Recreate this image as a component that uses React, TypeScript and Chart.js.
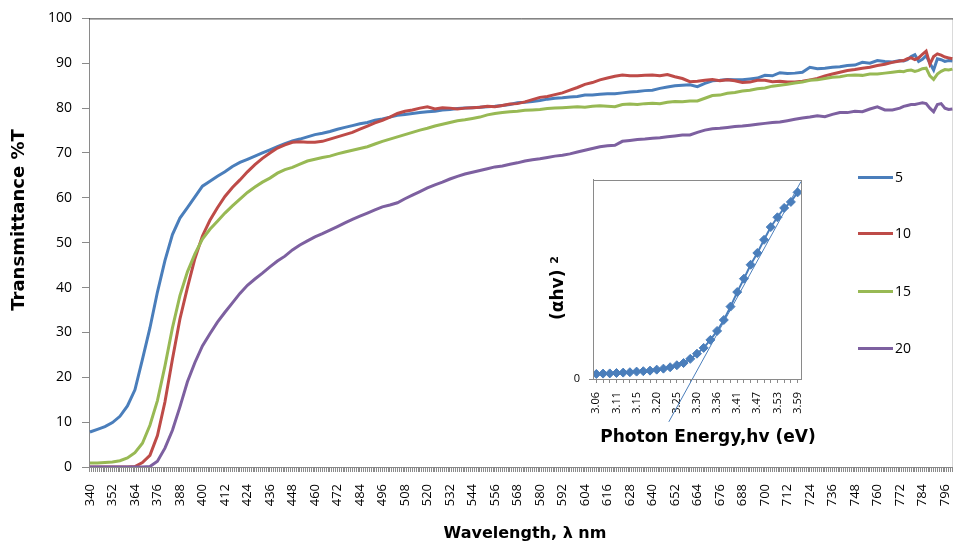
import React, { useEffect, useRef } from "react";
import { Chart, registerables } from "chart.js";

Chart.register(...registerables);

// ---------- main chart data ----------
const wavelengths = [
  340, 344, 348, 352, 356, 360, 364, 368, 372, 376,
  380, 384, 388, 392, 396, 400, 404, 408, 412, 416,
  420, 424, 428, 432, 436, 440, 444, 448, 452, 456,
  460, 464, 468, 472, 476, 480, 484, 488, 492, 496,
  500, 504, 508, 512, 516, 520, 524, 528, 532, 536,
  540, 544, 548, 552, 556, 560, 564, 568, 572, 576,
  580, 584, 588, 592, 596, 600, 604, 608, 612, 616,
  620, 624, 628, 632, 636, 640, 644, 648, 652, 656,
  660, 664, 668, 672, 676, 680, 684, 688, 692, 696,
  700, 704, 708, 712, 716, 720, 724, 728, 732, 736,
  740, 744, 748, 752, 756, 760, 764, 768,
  772,
  774, 776, 778, 780, 782, 784, 786, 788, 790, 792, 794, 796, 798, 800,
];

const series5 = [
  7.8, 8.4, 9.0, 9.9, 11.3, 13.6, 17.2, 24.0, 31.0, 39.0,
  46.0, 51.8, 55.5, 57.8, 60.2, 62.6, 63.7, 64.8, 65.8, 67.0,
  67.9, 68.6, 69.3, 70.0, 70.7, 71.4, 72.1, 72.7, 73.1, 73.6,
  74.1, 74.4, 74.8, 75.3, 75.7, 76.1, 76.5, 76.8, 77.3, 77.6,
  78.0, 78.4, 78.6, 78.8, 79.0, 79.2, 79.3, 79.6, 79.7, 79.9,
  80.0, 80.1, 80.2, 80.3, 80.4, 80.6, 80.8, 81.2, 81.3, 81.5,
  81.7, 82.0, 82.2, 82.3, 82.5, 82.6, 82.9, 82.9, 83.1, 83.2,
  83.2, 83.4, 83.6, 83.7, 83.9, 84.0, 84.4, 84.7, 85.0, 85.1,
  85.2, 84.8, 85.5, 86.1, 86.2, 86.4, 86.3, 86.3, 86.5, 86.7,
  87.3, 87.2, 87.9, 87.7, 87.8, 88.0, 89.1, 88.8, 88.9, 89.1,
  89.2, 89.5, 89.6, 90.2, 90.0, 90.6, 90.4, 90.3,
  90.6,
  90.5, 90.8, 91.5, 91.9, 90.4, 90.9, 91.7, 90.0, 88.5, 91.0, 90.8, 90.4, 90.6, 90.5,
];

const series10 = [
  0, 0, 0, 0, 0, 0, 0.1, 1.0, 2.6, 7.0,
  14.5, 24.0, 33.0, 40.0, 46.5, 51.5, 55.0, 57.8, 60.3, 62.3,
  64.0, 65.8, 67.4, 68.8, 70.0, 71.1, 71.8, 72.4, 72.5, 72.4,
  72.4, 72.6, 73.1, 73.6, 74.1, 74.6, 75.3, 76.0, 76.7, 77.3,
  78.0, 78.8, 79.3, 79.6, 80.0, 80.3, 79.8, 80.1, 80.0, 79.8,
  80.0, 80.1, 80.2, 80.4, 80.3, 80.6, 80.9, 81.0, 81.4, 81.9,
  82.4, 82.6, 83.0, 83.4, 84.0, 84.6, 85.3, 85.7, 86.3, 86.7,
  87.1, 87.4, 87.2, 87.2, 87.3, 87.4, 87.2, 87.5, 87.0, 86.6,
  85.9, 86.0, 86.2, 86.4, 86.1, 86.3, 86.1, 85.7, 85.8, 86.2,
  86.2, 85.9, 86.0, 85.8, 85.8, 86.0, 86.3, 86.6, 87.2, 87.6,
  88.0, 88.4, 88.6, 88.9, 89.1, 89.5, 89.8, 90.2,
  90.5,
  90.6, 91.0, 91.2, 90.8, 91.2, 92.0, 92.7, 89.8, 91.5, 92.1, 91.8, 91.4, 91.2, 91.0,
];

const series15 = [
  0.9, 0.9, 1.0, 1.1, 1.4, 2.0, 3.2, 5.3, 9.3, 14.8,
  22.5, 31.0, 38.2, 43.5, 47.5, 50.8, 53.0, 54.8, 56.6, 58.2,
  59.7, 61.2, 62.4, 63.5, 64.4, 65.5, 66.3, 66.8, 67.5, 68.2,
  68.6, 69.0, 69.3, 69.8, 70.2, 70.6, 71.0, 71.4, 72.0, 72.6,
  73.1, 73.6, 74.1, 74.6, 75.1, 75.5, 76.0, 76.4, 76.8, 77.2,
  77.4, 77.7, 78.0, 78.5, 78.8, 79.0, 79.2, 79.3, 79.5, 79.6,
  79.7, 79.9, 80.0, 80.1, 80.2, 80.3, 80.2, 80.4, 80.5, 80.4,
  80.3, 80.8, 80.9, 80.8, 81.0, 81.1, 81.0, 81.3, 81.5, 81.4,
  81.6, 81.6, 82.2, 82.8, 82.9, 83.3, 83.5, 83.8, 84.0, 84.3,
  84.5, 84.9, 85.1, 85.3, 85.6, 85.8, 86.2, 86.3, 86.6, 86.9,
  87.0, 87.3, 87.4, 87.3, 87.6, 87.6, 87.8, 88.0,
  88.2,
  88.1, 88.4, 88.5, 88.2, 88.4, 88.8, 88.9, 87.2, 86.4, 87.6, 88.2, 88.6, 88.5, 88.7,
];

const series20 = [
  0, 0, 0, 0, 0, 0, 0, 0, 0.1, 1.3,
  4.2, 8.2, 13.4, 19.0, 23.3, 27.0, 29.7, 32.3, 34.5, 36.6,
  38.7, 40.5, 41.9, 43.2, 44.6, 45.9, 47.0, 48.4, 49.5, 50.4,
  51.3, 52.0, 52.8, 53.6, 54.4, 55.2, 55.9, 56.6, 57.3, 58.0,
  58.4, 58.9, 59.8, 60.6, 61.4, 62.2, 62.9, 63.5, 64.2, 64.8,
  65.3, 65.7, 66.1, 66.5, 66.9, 67.1, 67.5, 67.8, 68.2, 68.5,
  68.7, 69.0, 69.3, 69.5, 69.8, 70.2, 70.6, 71.0, 71.4, 71.6,
  71.7, 72.6, 72.8, 73.0, 73.1, 73.3, 73.4, 73.6, 73.8, 74.0,
  74.0, 74.6, 75.1, 75.4, 75.5, 75.7, 75.9, 76.0, 76.2, 76.4,
  76.6, 76.8, 76.9, 77.2, 77.5, 77.8, 78.0, 78.3, 78.1, 78.6,
  79.0, 79.0, 79.3, 79.2, 79.8, 80.3, 79.6, 79.6,
  80.0,
  80.4, 80.6, 80.8, 80.8, 81.0, 81.2, 81.0, 80.0, 79.2, 80.8, 81.0, 80.0, 79.7, 79.8,
];

const seriesNames = ["5", "10", "15", "20"];
const seriesColors = ["#4A7EBB", "#BE4B48", "#98B954", "#7D60A0"];

const xTickLabels = [
  340, 352, 364, 376, 388, 400, 412, 424, 436, 448, 460, 472, 484,
  496, 508, 520, 532, 544, 556, 568, 580, 592, 604, 616, 628, 640,
  652, 664, 676, 688, 700, 712, 724, 736, 748, 760, 772, 784, 796,
];
const yMin = 0;
const yMax = 100;
const yStep = 10;

// ---------- inset data ----------
const energyLabels = [
  "3.06", "3.08", "3.09", "3.11", "3.12", "3.14", "3.15", "3.17", "3.19", "3.20",
  "3.22", "3.24", "3.25", "3.27", "3.29", "3.30", "3.32", "3.34", "3.36", "3.37",
  "3.39", "3.41", "3.43", "3.45", "3.47", "3.49", "3.51", "3.53", "3.55", "3.57",
  "3.59",
];
const alphaHv2 = [
  0.025, 0.027, 0.028, 0.030, 0.032, 0.034, 0.037, 0.039, 0.042, 0.047,
  0.052, 0.059, 0.069, 0.080, 0.101, 0.127, 0.156, 0.196, 0.241, 0.296,
  0.363, 0.436, 0.503, 0.573, 0.632, 0.698, 0.762, 0.811, 0.858, 0.888,
  0.936,
];
// tangent line endpoints (category index, value)
const tangentIndex = [10.8, 30.5];
const tangentValue = [-0.215, 0.99];

const NUM_FONT = "'Open Sans', 'Liberation Sans', sans-serif";
const TITLE_FONT = "'DejaVu Sans', 'Liberation Sans', sans-serif";
const AXIS_GRAY = "#8a8a8a";

const mainFrame = {
  id: "mainFrame",
  afterDraw(chart: any) {
    const { ctx, chartArea } = chart;
    ctx.save();
    ctx.strokeStyle = "#3a3a3a";
    ctx.lineWidth = 1;
    ctx.beginPath();
    ctx.moveTo(chartArea.left, chartArea.top + 0.5);
    ctx.lineTo(chartArea.right, chartArea.top + 0.5);
    ctx.lineTo(chartArea.right, chartArea.bottom);
    ctx.stroke();
    ctx.restore();
  },
};

const insetFrame = {
  id: "insetFrame",
  afterDraw(chart: any) {
    const { ctx, chartArea } = chart;
    ctx.save();
    ctx.strokeStyle = AXIS_GRAY;
    ctx.lineWidth = 1;
    ctx.strokeRect(
      Math.round(chartArea.left) + 0.5,
      Math.round(chartArea.top) + 0.5,
      Math.round(chartArea.right - chartArea.left),
      Math.round(chartArea.bottom - chartArea.top)
    );
    ctx.restore();
  },
};

export default function App() {
  const mainRef = useRef<HTMLCanvasElement | null>(null);
  const insetRef = useRef<HTMLCanvasElement | null>(null);

  useEffect(() => {
    document.body.style.margin = "0";
    document.body.style.overflow = "hidden";
    const allSeries = [series5, series10, series15, series20];
    const datasets = allSeries.map((vals, k) => ({
      label: seriesNames[k],
      data: wavelengths.map((w, i) => ({ x: w, y: vals[i] })),
      borderColor: seriesColors[k],
      backgroundColor: seriesColors[k],
      borderWidth: 3,
      pointRadius: 0,
      tension: 0,
      fill: false,
      order: allSeries.length - 1 - k,
    }));

    const main = new Chart(mainRef.current as HTMLCanvasElement, {
      type: "line",
      data: { datasets },
      plugins: [mainFrame],
      options: {
        responsive: false,
        animation: false,
        devicePixelRatio: 1,
        layout: { padding: { top: 16, right: 20, left: 0, bottom: 0 } },
        plugins: { legend: { display: false }, tooltip: { enabled: false } },
        scales: {
          x: {
            type: "linear",
            min: xTickLabels[0] - 0.5,
            max: wavelengths[wavelengths.length - 1] + 0.5,
            afterBuildTicks: (s: any) => {
              const t: any[] = [];
              for (let v = wavelengths[0]; v <= wavelengths[wavelengths.length - 1]; v++) t.push({ value: v });
              s.ticks = t;
            },
            afterFit: (s: any) => {
              s.height = 77;
            },
            ticks: {
              autoSkip: false,
              minRotation: 90,
              maxRotation: 90,
              padding: 12,
              color: "#000",
              font: { family: NUM_FONT, size: 13 },
              callback: (v: any) => (xTickLabels.includes(Number(v)) ? String(v) : ""),
            },
            grid: { drawOnChartArea: false, drawTicks: true, tickLength: 5, color: AXIS_GRAY },
            border: { display: true, color: AXIS_GRAY, width: 1 },
          },
          y: {
            min: yMin,
            max: yMax,
            afterFit: (s: any) => {
              s.width = 89;
            },
            ticks: {
              stepSize: yStep,
              padding: 10,
              color: "#000",
              font: { family: NUM_FONT, size: 14 },
            },
            grid: { drawOnChartArea: false, tickLength: 7, color: AXIS_GRAY },
            border: { display: true, color: AXIS_GRAY, width: 1 },
          },
        },
      } as any,
    });

    const inset = new Chart(insetRef.current as HTMLCanvasElement, {
      type: "line",
      data: {
        datasets: [
          {
            label: "(αhv)²",
            data: alphaHv2.map((v, i) => ({ x: i, y: v })),
            borderColor: "#4A7EBB",
            backgroundColor: "#4A7EBB",
            borderWidth: 2,
            pointStyle: "rectRot",
            pointRadius: 4.5,
            pointBackgroundColor: "#4A7EBB",
            pointBorderColor: "#4A7EBB",
            pointBorderWidth: 1,
            tension: 0,
            order: 1,
          },
          {
            label: "tangent",
            data: tangentIndex.map((x, i) => ({ x, y: tangentValue[i] })),
            borderColor: "#4A7EBB",
            borderWidth: 1,
            pointRadius: 0,
            tension: 0,
            clip: false,
            order: 0,
          },
        ],
      },
      plugins: [insetFrame],
      options: {
        responsive: false,
        animation: false,
        devicePixelRatio: 1,
        layout: { padding: { top: 0, right: 13, left: 0, bottom: 0 } },
        plugins: { legend: { display: false }, tooltip: { enabled: false } },
        scales: {
          x: {
            type: "linear",
            min: -0.5,
            max: energyLabels.length - 0.5,
            afterBuildTicks: (s: any) => {
              s.ticks = energyLabels.map((_, i) => ({ value: i }));
            },
            afterFit: (s: any) => {
              s.height = 48;
            },
            ticks: {
              autoSkip: false,
              minRotation: 90,
              maxRotation: 90,
              padding: 9,
              color: "#000",
              font: { family: NUM_FONT, size: 11 },
              callback: (v: any) => (Number(v) % 3 === 0 ? energyLabels[Number(v)] : ""),
            },
            grid: { drawOnChartArea: false, tickLength: 4, color: AXIS_GRAY },
            border: { display: true, color: AXIS_GRAY },
          },
          y: {
            min: 0,
            max: 1,
            afterBuildTicks: (s: any) => {
              s.ticks = [{ value: 0 }];
            },
            afterFit: (s: any) => {
              s.width = 53;
            },
            ticks: {
              padding: 9,
              color: "#000",
              font: { family: NUM_FONT, size: 11 },
              callback: () => "0",
            },
            grid: { drawOnChartArea: false, tickLength: 4, color: AXIS_GRAY },
            border: { display: true, color: AXIS_GRAY },
          },
        },
      } as any,
    });

    return () => {
      main.destroy();
      inset.destroy();
    };
  }, []);

  const legendY = [177, 233, 291, 348];

  return (
    <div style={{ position: "relative", width: 953, height: 544, overflow: "hidden", background: "#fff" }}>
      <canvas ref={mainRef} width={980} height={544} style={{ position: "absolute", left: 0, top: 0 }} />
      <canvas ref={insetRef} width={280} height={263} style={{ position: "absolute", left: 540, top: 164 }} />

      {seriesNames.map((name, k) => (
        <div key={name}>
          <div
            style={{
              position: "absolute",
              left: 858,
              top: legendY[k] - 1.5,
              width: 35,
              height: 3,
              background: seriesColors[k],
            }}
          />
          <div
            style={{
              position: "absolute",
              left: 895,
              top: legendY[k] - 10,
              height: 20,
              lineHeight: "20px",
              fontFamily: NUM_FONT,
              fontSize: 14,
              color: "#000",
            }}
          >
            {name}
          </div>
        </div>
      ))}

      <div
        style={{
          position: "absolute",
          left: 17.5 - 150,
          top: 220 - 9,
          width: 300,
          height: 18,
          lineHeight: "18px",
          textAlign: "center",
          transform: "rotate(-90deg)",
          fontFamily: TITLE_FONT,
          fontWeight: "bold",
          fontSize: 18,
          color: "#000",
          whiteSpace: "nowrap",
        }}
      >
        Transmittance %T
      </div>

      <div
        style={{
          position: "absolute",
          left: 325,
          top: 525,
          width: 400,
          height: 16,
          lineHeight: "16px",
          textAlign: "center",
          fontFamily: TITLE_FONT,
          fontWeight: "bold",
          fontSize: 16,
          color: "#000",
          whiteSpace: "nowrap",
        }}
      >
        Wavelength, λ nm
      </div>

      <div
        style={{
          position: "absolute",
          left: 558,
          top: 428,
          width: 300,
          height: 17,
          lineHeight: "17px",
          textAlign: "center",
          fontFamily: TITLE_FONT,
          fontWeight: "bold",
          fontSize: 17,
          color: "#000",
          whiteSpace: "nowrap",
        }}
      >
        Photon Energy,hv (eV)
      </div>

      <div
        style={{
          position: "absolute",
          left: 557 - 60,
          top: 288 - 9,
          width: 120,
          height: 18,
          lineHeight: "18px",
          textAlign: "center",
          transform: "rotate(-90deg)",
          fontFamily: TITLE_FONT,
          fontWeight: "bold",
          fontSize: 17,
          color: "#000",
          whiteSpace: "nowrap",
        }}
      >
        (αhv) <span style={{ fontSize: 11, position: "relative", top: -5 }}>2</span>
      </div>
    </div>
  );
}
